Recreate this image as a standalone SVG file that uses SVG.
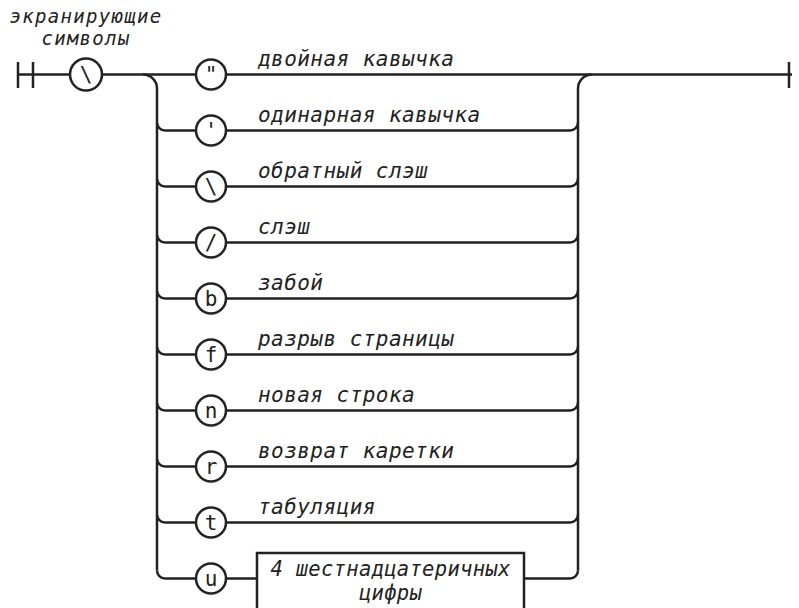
<svg xmlns="http://www.w3.org/2000/svg" width="799" height="608" viewBox="0 0 799 608">
<style>
.ln{fill:none;stroke:#222;stroke-width:2.5}
.term{fill:#fff;stroke:#222;stroke-width:2.5}
.sym{font-family:"DejaVu Sans Mono","Liberation Mono",monospace;font-size:21px;fill:#222;text-anchor:middle}
.lbl{font-family:"DejaVu Sans Mono","Liberation Mono",monospace;font-style:italic;font-size:21px;letter-spacing:0.45px;fill:#222}
.ttl{font-family:"DejaVu Sans Mono","Liberation Mono",monospace;font-style:italic;font-size:20.5px;letter-spacing:0.3px;fill:#222;text-anchor:middle}
.hd{font-family:"DejaVu Sans Mono","Liberation Mono",monospace;font-style:italic;font-size:19px;letter-spacing:1.3px;fill:#222;text-anchor:middle}
</style>
<rect width="799" height="608" fill="#fff"/>
<g id="connectors" class="ln">
<path d="M18,62 V88 M33,62 V88 M18,74.5 H70 M102,74.5 H196 M226,74.5 H792 M789,62 V88"/>
<path d="M143,74.5 A14,14 0 0 1 157,88.5 V570.5"/>
<path d="M578,570.5 V88.5 A14,14 0 0 1 592,74.5"/>
<path d="M157,122.5 A8,8 0 0 0 165,130.5 H196 M226,130.5 H570 A8,8 0 0 0 578,122.5"/>
<path d="M157,178.5 A8,8 0 0 0 165,186.5 H196 M226,186.5 H570 A8,8 0 0 0 578,178.5"/>
<path d="M157,234.5 A8,8 0 0 0 165,242.5 H196 M226,242.5 H570 A8,8 0 0 0 578,234.5"/>
<path d="M157,290.5 A8,8 0 0 0 165,298.5 H196 M226,298.5 H570 A8,8 0 0 0 578,290.5"/>
<path d="M157,346.5 A8,8 0 0 0 165,354.5 H196 M226,354.5 H570 A8,8 0 0 0 578,346.5"/>
<path d="M157,402.5 A8,8 0 0 0 165,410.5 H196 M226,410.5 H570 A8,8 0 0 0 578,402.5"/>
<path d="M157,458.5 A8,8 0 0 0 165,466.5 H196 M226,466.5 H570 A8,8 0 0 0 578,458.5"/>
<path d="M157,514.5 A8,8 0 0 0 165,522.5 H196 M226,522.5 H570 A8,8 0 0 0 578,514.5"/>
<path d="M157,570.5 A8,8 0 0 0 165,578.5 H196 M226,578.5 H257 M524,578.5 H570 A8,8 0 0 0 578,570.5"/>
</g>
<g id="title"><text class="hd" x="86" y="23">экранирующие</text><text class="hd" x="86" y="45">символы</text></g>
<g id="n-backslash-start"><circle class="term" cx="86" cy="74.5" r="16"/><text class="sym" x="86" y="82">\</text></g>
<g id="n-dquote"><circle class="term" cx="211" cy="74.5" r="15"/><text class="sym" x="211" y="82">"</text><text class="lbl" x="258" y="66">двойная кавычка</text></g>
<g id="n-squote"><circle class="term" cx="211" cy="130.5" r="15"/><text class="sym" x="211" y="138">'</text><text class="lbl" x="258" y="122">одинарная кавычка</text></g>
<g id="n-backslash"><circle class="term" cx="211" cy="186.5" r="15"/><text class="sym" x="211" y="194">\</text><text class="lbl" x="258" y="178">обратный слэш</text></g>
<g id="n-slash"><circle class="term" cx="211" cy="242.5" r="15"/><text class="sym" x="211" y="250">/</text><text class="lbl" x="258" y="234">слэш</text></g>
<g id="n-b"><circle class="term" cx="211" cy="298.5" r="15"/><text class="sym" x="211" y="306">b</text><text class="lbl" x="258" y="290">забой</text></g>
<g id="n-f"><circle class="term" cx="211" cy="354.5" r="15"/><text class="sym" x="211" y="362">f</text><text class="lbl" x="258" y="346">разрыв страницы</text></g>
<g id="n-n"><circle class="term" cx="211" cy="410.5" r="15"/><text class="sym" x="211" y="418">n</text><text class="lbl" x="258" y="402">новая строка</text></g>
<g id="n-r"><circle class="term" cx="211" cy="466.5" r="15"/><text class="sym" x="211" y="474">r</text><text class="lbl" x="258" y="458">возврат каретки</text></g>
<g id="n-t"><circle class="term" cx="211" cy="522.5" r="15"/><text class="sym" x="211" y="530">t</text><text class="lbl" x="258" y="514">табуляция</text></g>
<g id="n-u"><circle class="term" cx="211" cy="578.5" r="15"/><text class="sym" x="211" y="586">u</text></g>
<g id="n-hex"><rect class="term" x="257" y="553" width="267" height="80"/><text class="ttl" x="390.5" y="576">4 шестнадцатеричных</text><text class="ttl" x="390.5" y="600">цифры</text></g>
</svg>
